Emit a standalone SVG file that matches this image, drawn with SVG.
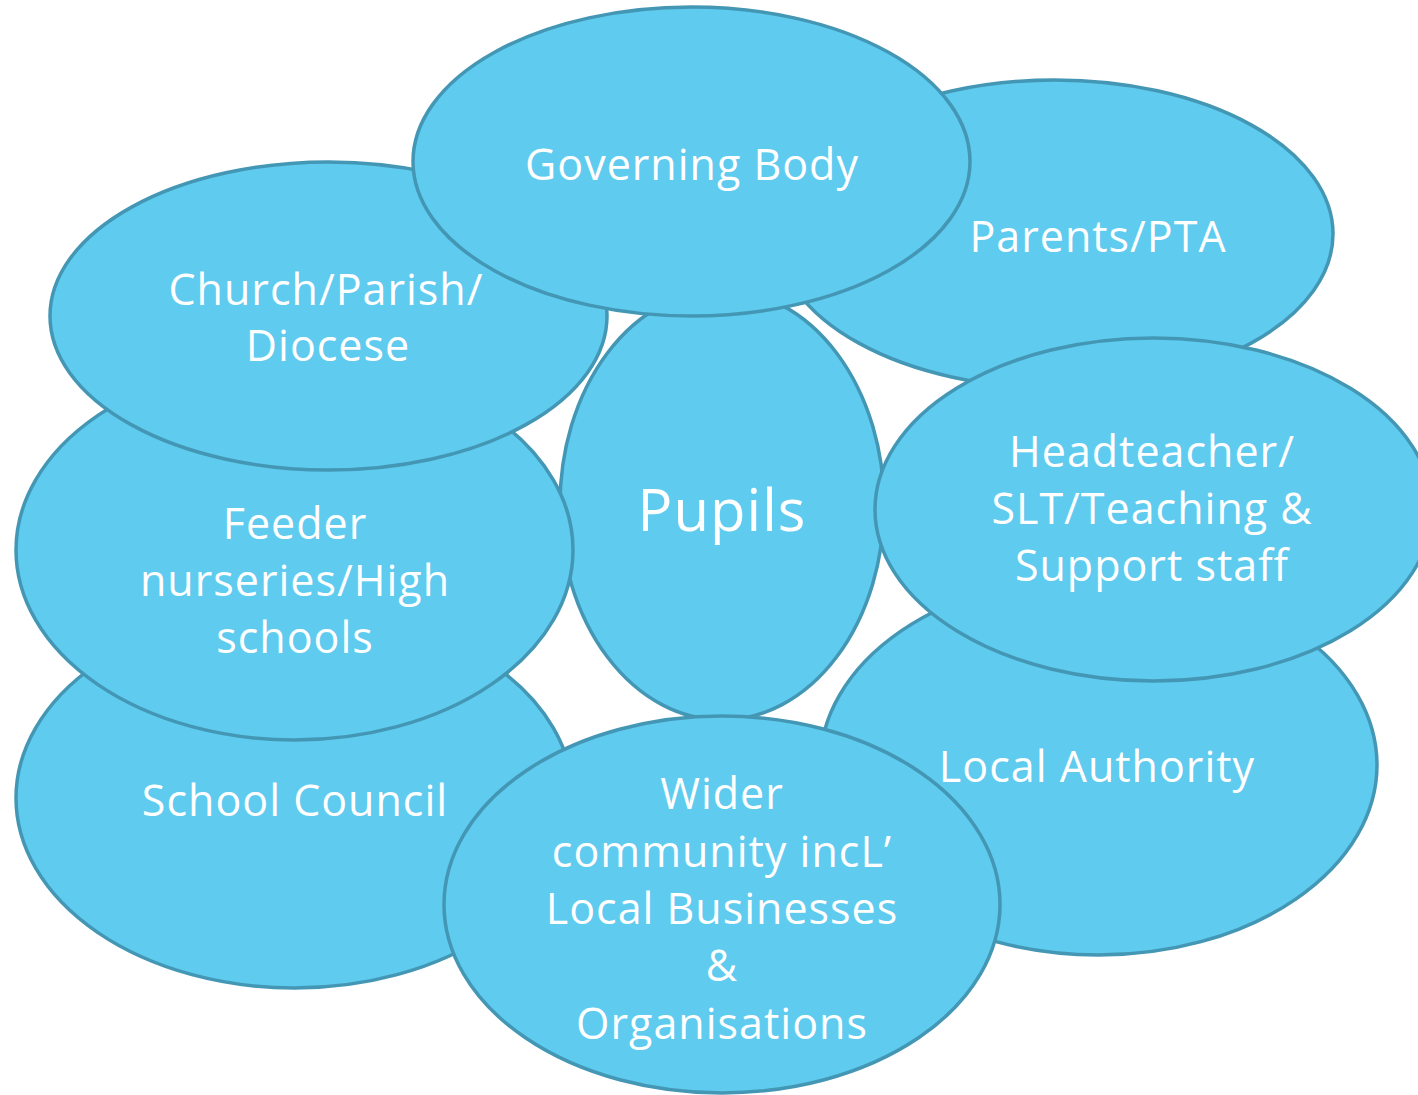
<svg xmlns="http://www.w3.org/2000/svg" width="1418" height="1095" viewBox="0 0 1418 1095">
<style>
.n{fill:#5ecbef;stroke:#4497b4;stroke-width:3.5}
.t{font-family:"Open Sans","DejaVu Sans",sans-serif;font-size:43px;fill:#ffffff;text-anchor:middle;letter-spacing:1px}
.big{font-size:58px}
</style>
<rect width="1418" height="1095" fill="#ffffff"/>
<g id="pupils"><ellipse class="n" cx="722" cy="505" rx="162" ry="215"/><text class="t big" x="722" y="531">Pupils</text></g>
<g id="school-council"><ellipse class="n" cx="294.5" cy="798" rx="278.5" ry="190"/><text class="t" x="295" y="816">School Council</text></g>
<g id="feeder"><ellipse class="n" cx="294.5" cy="550" rx="278.5" ry="190"/><text class="t" x="295" y="539">Feeder</text><text class="t" x="295" y="596">nurseries/High</text><text class="t" x="295" y="653">schools</text></g>
<g id="church"><ellipse class="n" cx="328.5" cy="316" rx="278.5" ry="154"/><text class="t" x="326" y="305">Church/Parish/</text><text class="t" x="328" y="361">Diocese</text></g>
<g id="local-authority"><ellipse class="n" cx="1098.5" cy="765" rx="278.5" ry="190"/><text class="t" x="1097" y="782">Local Authority</text></g>
<g id="parents"><ellipse class="n" cx="1055" cy="234" rx="278" ry="154"/><text class="t" x="1098" y="252">Parents/PTA</text></g>
<g id="headteacher"><ellipse class="n" cx="1153.5" cy="509.5" rx="278.5" ry="171.5"/><text class="t" x="1152" y="467">Headteacher/</text><text class="t" x="1152" y="524">SLT/Teaching &amp;</text><text class="t" x="1152" y="581">Support staff</text></g>
<g id="governing-body"><ellipse class="n" cx="691.5" cy="161.5" rx="278.5" ry="154.5"/><text class="t" x="692" y="180">Governing Body</text></g>
<g id="wider-community"><ellipse class="n" cx="722" cy="904.5" rx="278" ry="188.5"/><text class="t" x="722" y="809">Wider</text><text class="t" x="722" y="867">community incL’</text><text class="t" x="722" y="924">Local Businesses</text><text class="t" x="722" y="981">&amp;</text><text class="t" x="722" y="1039">Organisations</text></g>
<g id="connectors"></g>
</svg>
